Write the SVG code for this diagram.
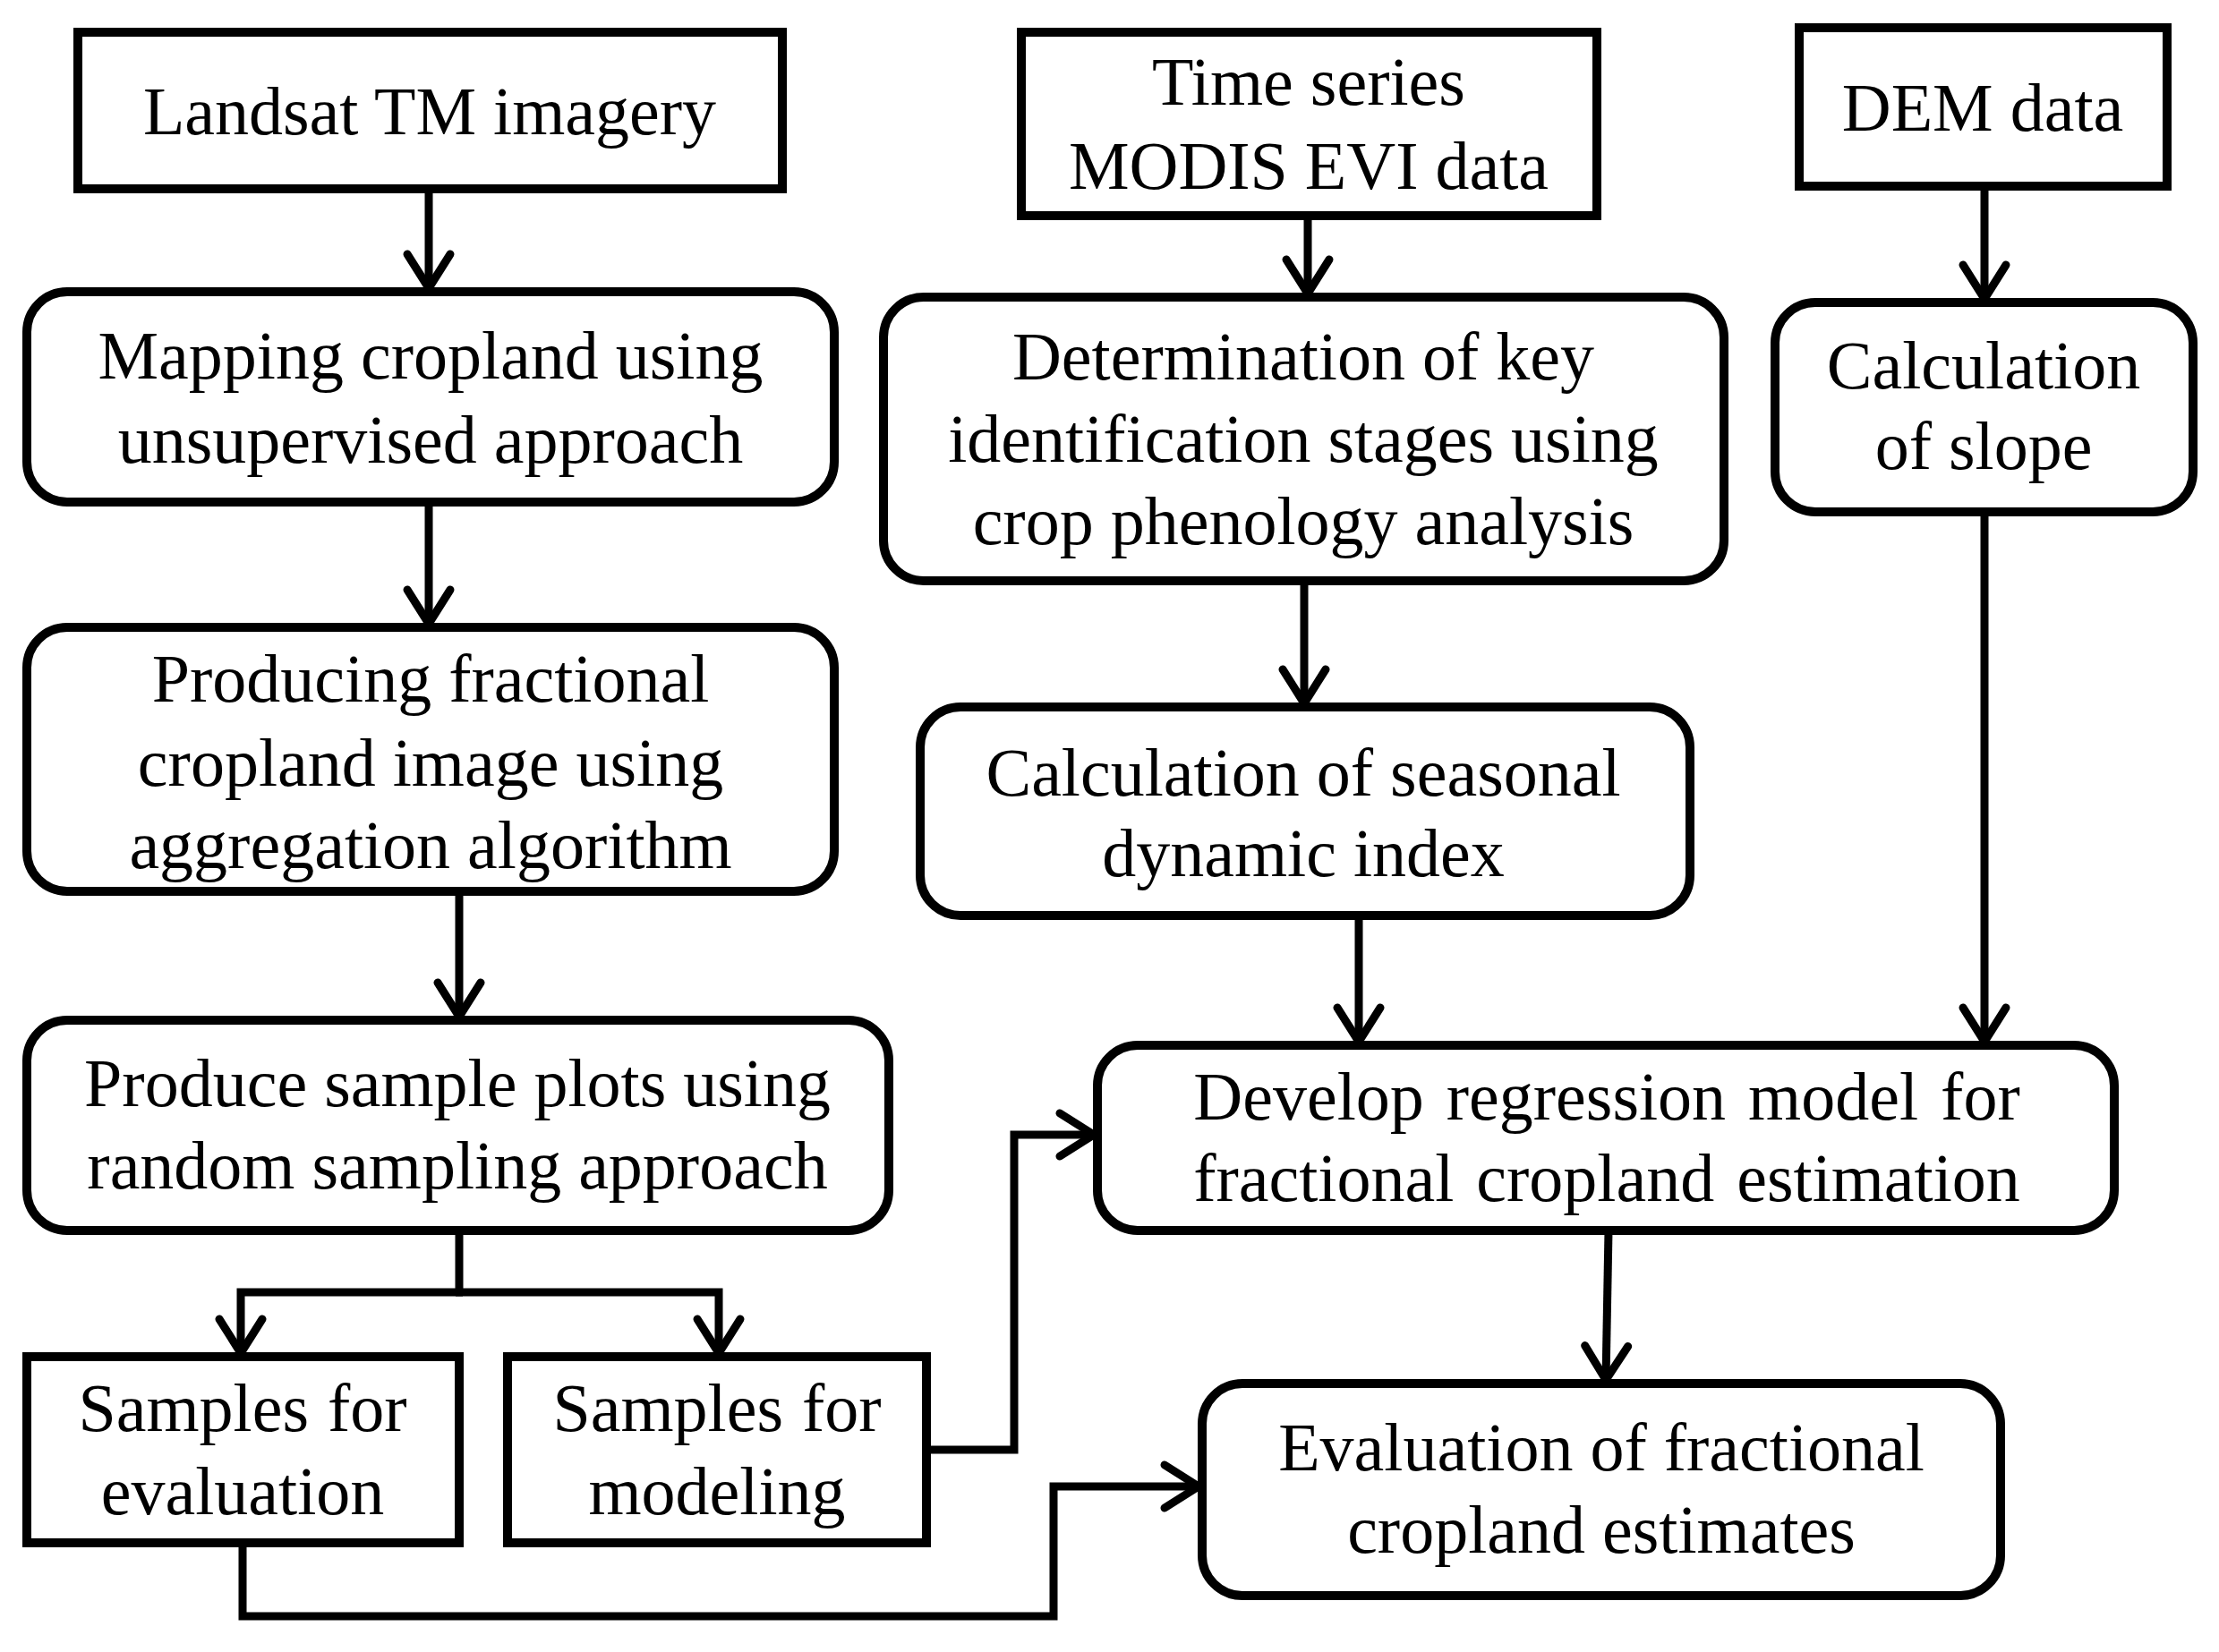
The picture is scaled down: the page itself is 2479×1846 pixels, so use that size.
<svg xmlns="http://www.w3.org/2000/svg" width="2479" height="1846" viewBox="0 0 2479 1846">
<style>
.box{fill:#fff;stroke:#000;stroke-width:10}
.t{font-family:"Liberation Serif","Times New Roman",serif;font-size:76px;fill:#000;text-anchor:middle}
.ws{word-spacing:2px}
.ws2{word-spacing:6px}
.c{fill:none;stroke:#000;stroke-width:9;stroke-linejoin:miter}
</style>
<defs>
<marker id="ah" viewBox="-50 -32 60 64" markerWidth="60" markerHeight="64" refX="0" refY="0" orient="auto" markerUnits="userSpaceOnUse">
<path d="M-38,-24 L0,0 L-38,24" fill="none" stroke="#000" stroke-width="9" stroke-linecap="round" stroke-linejoin="round"/>
</marker>
</defs>
<rect width="2479" height="1846" fill="#fff"/>
<g id="n-landsat"><rect class="box" x="87" y="36" width="787" height="175"/><text class="t" x="480" y="150">Landsat TM imagery</text></g>
<g id="n-timeseries"><rect class="box" x="1141" y="36" width="643" height="205"/><text class="t" x="1462" y="117">Time series</text><text class="t" x="1462" y="211">MODIS EVI data</text></g>
<g id="n-dem"><rect class="box" x="2010" y="31" width="411" height="177"/><text class="t" x="2215" y="146">DEM data</text></g>
<g id="n-mapping"><rect class="box" x="30" y="326" width="902" height="235" rx="45"/><text class="t" x="481" y="423">Mapping cropland using</text><text class="t" x="481" y="517">unsupervised approach</text></g>
<g id="n-determination"><rect class="box" x="987" y="332" width="939" height="317" rx="45"/><text class="t" x="1456" y="424">Determination of key</text><text class="t" x="1456" y="516">identification stages using</text><text class="t" x="1456" y="608">crop phenology analysis</text></g>
<g id="n-slope"><rect class="box" x="1983" y="338" width="467" height="234" rx="45"/><text class="t" x="2216" y="434">Calculation</text><text class="t" x="2216" y="524">of slope</text></g>
<g id="n-producing"><rect class="box" x="30" y="701" width="902" height="295" rx="45"/><text class="t" x="481" y="784">Producing fractional</text><text class="t" x="481" y="878">cropland image using</text><text class="t" x="481" y="970">aggregation algorithm</text></g>
<g id="n-seasonal"><rect class="box" x="1028" y="790" width="860" height="233" rx="45"/><text class="t" x="1456" y="889">Calculation of seasonal</text><text class="t" x="1456" y="979">dynamic index</text></g>
<g id="n-produce"><rect class="box" x="30" y="1140" width="963" height="235" rx="45"/><text class="t" x="511" y="1236">Produce sample plots using</text><text class="t" x="511" y="1328">random sampling approach</text></g>
<g id="n-develop"><rect class="box" x="1226" y="1168" width="1136" height="207" rx="45"/><text class="t ws2" x="1795" y="1251">Develop regression model for</text><text class="t ws2" x="1795" y="1342">fractional cropland estimation</text></g>
<g id="n-sampeval"><rect class="box" x="30" y="1516" width="483" height="208"/><text class="t ws" x="271" y="1599">Samples for</text><text class="t" x="271" y="1692">evaluation</text></g>
<g id="n-sampmodel"><rect class="box" x="567" y="1516" width="468" height="208"/><text class="t ws" x="801" y="1599">Samples for</text><text class="t" x="801" y="1692">modeling</text></g>
<g id="n-evaluation"><rect class="box" x="1343" y="1546" width="892" height="237" rx="45"/><text class="t" x="1789" y="1643">Evaluation of fractional</text><text class="t" x="1789" y="1735">cropland estimates</text></g>
<g id="connectors">
<path class="c" d="M479,211 V322" marker-end="url(#ah)"/>
<path class="c" d="M1461,241 V328" marker-end="url(#ah)"/>
<path class="c" d="M2217,208 V334" marker-end="url(#ah)"/>
<path class="c" d="M479,561 V697" marker-end="url(#ah)"/>
<path class="c" d="M1457,649 V786" marker-end="url(#ah)"/>
<path class="c" d="M513,996 V1136" marker-end="url(#ah)"/>
<path class="c" d="M513,1375 V1444"/>
<path class="c" d="M517,1444 H269 V1512" marker-end="url(#ah)"/>
<path class="c" d="M509,1444 H803 V1512" marker-end="url(#ah)"/>
<path class="c" d="M1518,1023 V1164" marker-end="url(#ah)"/>
<path class="c" d="M2217,572 V1164" marker-end="url(#ah)"/>
<path class="c" d="M1035,1620 H1133 V1268 H1222" marker-end="url(#ah)"/>
<path class="c" d="M1797,1375 L1794,1542" marker-end="url(#ah)"/>
<path class="c" d="M271,1724 V1806 H1177 V1661 H1339" marker-end="url(#ah)"/>
</g>
</svg>
